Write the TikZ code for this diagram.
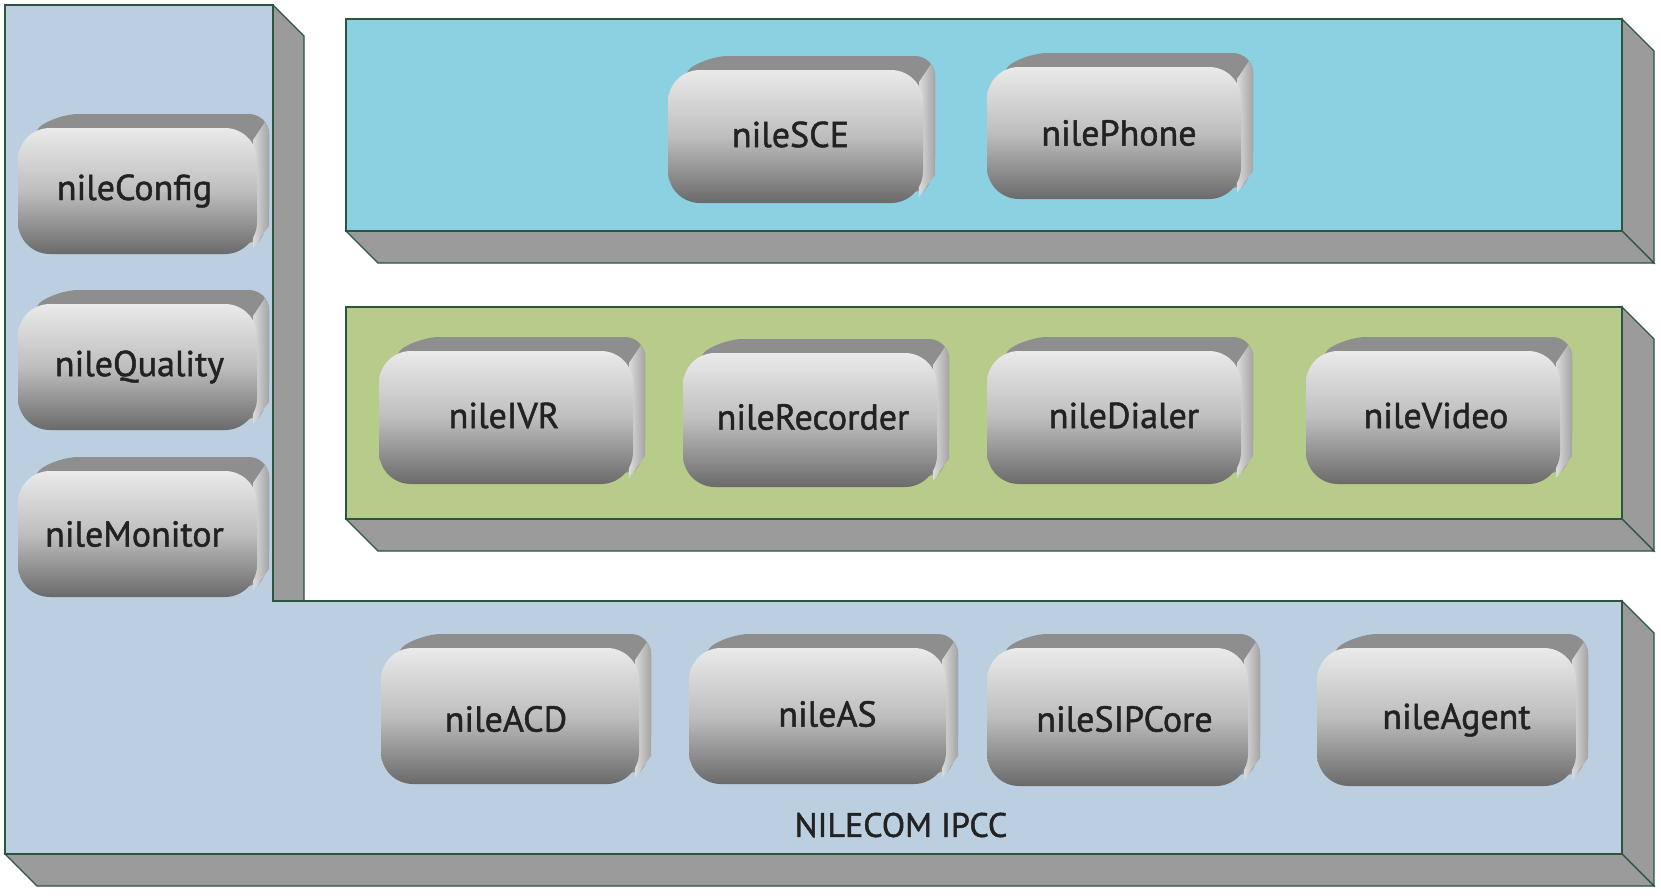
\documentclass[tikz,border=0pt]{standalone}
\usepackage{fontspec}
\setmainfont{PT Sans}
\newfontfamily\btnfont{PT Sans}[FakeBold=1.3]
\definecolor{lblue}{HTML}{BBCFE0}
\definecolor{cyanb}{HTML}{8CD1E1}
\definecolor{greenb}{HTML}{B7CB8A}
\definecolor{depthc}{HTML}{9B9B9B}
\definecolor{edgec}{HTML}{2B5540}
\definecolor{btop}{HTML}{8E8E8E}
\definecolor{sideL}{HTML}{DADADA}
\definecolor{sideR}{HTML}{A4A4A4}
\definecolor{ftop}{HTML}{EAEAEA}
\definecolor{fmid}{HTML}{BEBEBE}
\definecolor{fbot}{HTML}{6A6A6A}
\definecolor{txt}{HTML}{222222}
\tikzset{
  face/.style={draw=edgec, line width=0.6pt, line join=miter},
  depthface/.style={fill=depthc, draw=edgec, line width=0.6pt, line join=miter},
  lbl/.style={font=\btnfont\fontsize{18}{20}\selectfont, text=txt, inner sep=0pt},
  title/.style={font=\btnfont\fontsize{17}{19}\selectfont, text=txt, inner sep=0pt},
}
% name, L, T, R, B, text, vertical text shift, horizontal text shift
\newcommand\btn[8]{%
  \fill[btop, rounded corners=10] (#2+8,#3+8) -- (#2+40,#3-14) -- (#4+12,#3-14) -- (#4+12,#5-28) -- (#4-4,#5-4) -- cycle;
  \shade[left color=sideL, right color=sideR] (#4-4,#3+12) -- (#4+8,#3-6) -- (#4+12,#3+2) -- (#4+12,#5-28) -- (#4-4,#5-6) -- cycle;
  \shade[top color=ftop, bottom color=fbot, middle color=fmid, rounded corners=16] (#2,#3) rectangle (#4,#5);
  \node[lbl] (#1) at ({(#2+#4)/2+#8},{(#3+#5)/2+#7}) {#6};
}
\begin{document}
\begin{tikzpicture}[x=0.5pt,y=-0.5pt]
\useasboundingbox (0,0) rectangle (1661,895);
\fill[white] (0,0) rectangle (1661,895);
% L-shaped base
\draw[depthface] (273,5) -- (304,36) -- (304,601) -- (273,601) -- cycle;
\draw[depthface] (1622,601) -- (1654,633) -- (1654,886) -- (1622,854) -- cycle;
\draw[depthface] (5,854) -- (37,886) -- (1654,886) -- (1622,854) -- cycle;
\draw[face, fill=lblue] (5,5) -- (273,5) -- (273,601) -- (1622,601) -- (1622,854) -- (5,854) -- cycle;
% top box
\draw[depthface] (1622,19) -- (1654,51) -- (1654,263) -- (1622,231) -- cycle;
\draw[depthface] (346,231) -- (378,263) -- (1654,263) -- (1622,231) -- cycle;
\draw[face, fill=cyanb] (346,19) rectangle (1622,231);
% green box
\draw[depthface] (1622,307) -- (1654,339) -- (1654,551) -- (1622,519) -- cycle;
\draw[depthface] (346,519) -- (378,551) -- (1654,551) -- (1622,519) -- cycle;
\draw[face, fill=greenb] (346,307) rectangle (1622,519);
% buttons
\btn{config}{18}{128}{257}{254}{nileConfig}{0}{-3}
\btn{quality}{18}{304}{257}{430}{nileQuality}{0}{2}
\btn{monitor}{18}{471}{257}{597}{nileMonitor}{0}{-3}
\btn{sce}{668}{70}{923}{203}{nileSCE}{-2}{-5}
\btn{phone}{987}{67}{1241}{199}{nilePhone}{0}{5}
\btn{ivr}{379}{351}{633}{484}{nileIVR}{-2}{-2}
\btn{recorder}{683}{353}{937}{487}{nileRecorder}{-3}{3}
\btn{dialer}{987}{351}{1241}{484}{nileDialer}{-2}{10}
\btn{video}{1306}{351}{1560}{484}{nileVideo}{-2}{3}
\btn{acd}{381}{648}{639}{784}{nileACD}{3}{-4}
\btn{as}{689}{648}{946}{784}{nileAS}{-2}{10}
\btn{sipcore}{987}{648}{1248}{786}{nileSIPCore}{2}{7}
\btn{agent}{1317}{648}{1576}{786}{nileAgent}{3}{10}
\node[title] (ipcc) at (901,825) {NILECOM IPCC};
\end{tikzpicture}
\end{document}
